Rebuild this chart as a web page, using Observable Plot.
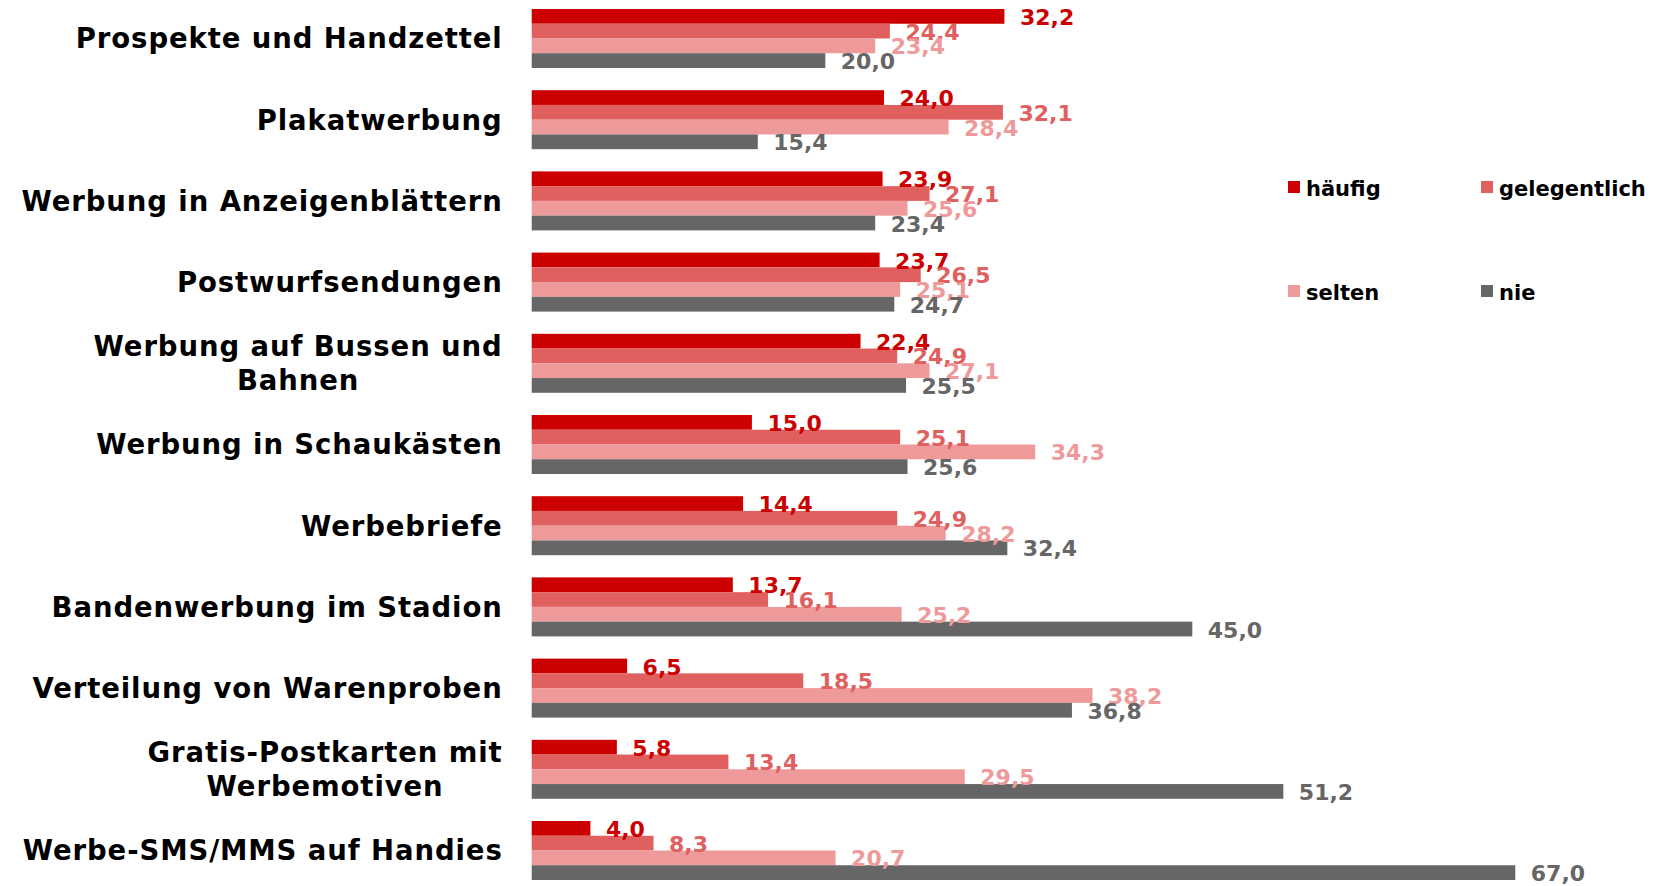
<!DOCTYPE html>
<html><head><meta charset="utf-8">
<script src="https://cdn.jsdelivr.net/npm/d3@7"></script>
<script src="https://cdn.jsdelivr.net/npm/@observablehq/plot@0.6"></script>
<style>
body{margin:0;background:#fff;}
#wrap{position:relative;width:1659px;height:886px;font-family:'DejaVu Sans',Verdana,sans-serif;}
.lg{position:absolute;display:flex;align-items:center;font-weight:bold;font-size:21px;color:#000;white-space:nowrap;height:26px;}
.lg span.sw{display:inline-block;width:12px;height:12px;margin-right:6px;}
.lg span.tx{position:relative;top:2px;}
</style></head><body><div id="wrap"></div>
<script>
const categories = [
  "Prospekte und Handzettel",
  "Plakatwerbung",
  "Werbung in Anzeigenblättern",
  "Postwurfsendungen",
  "Werbung auf Bussen und\nBahnen",
  "Werbung in Schaukästen",
  "Werbebriefe",
  "Bandenwerbung im Stadion",
  "Verteilung von Warenproben",
  "Gratis-Postkarten mit\nWerbemotiven",
  "Werbe-SMS/MMS auf Handies"
];
const series = ["häufig", "gelegentlich", "selten", "nie"];
const colors = ["#cc0000", "#e06060", "#ee9a9a", "#666666"];
const haeufig      = [32.2, 24.0, 23.9, 23.7, 22.4, 15.0, 14.4, 13.7, 6.5, 5.8, 4.0];
const gelegentlich = [24.4, 32.1, 27.1, 26.5, 24.9, 25.1, 24.9, 16.1, 18.5, 13.4, 8.3];
const selten       = [23.4, 28.4, 25.6, 25.1, 27.1, 34.3, 28.2, 25.2, 38.2, 29.5, 20.7];
const nie          = [20.0, 15.4, 23.4, 24.7, 25.5, 25.6, 32.4, 45.0, 36.8, 51.2, 67.0];
const valuesBySeries = [haeufig, gelegentlich, selten, nie];

const data = categories.flatMap((c, i) => series.map((s, j) => ({category: c, series: s, value: valuesBySeries[j][i]})));
const fmt = v => d3.format(".1f")(v).replace(".", ",");

const catFont = 27.5, catSpacing = 0.9, labelGap = 30;
const ctx = document.createElement("canvas").getContext("2d");
ctx.font = `bold ${catFont}px 'DejaVu Sans'`;
const catMarks = categories.map(c => {
  const w = d3.max(c.split("\n"), l => ctx.measureText(l).width + (l.length - 1) * catSpacing);
  return Plot.text([c], {
    fy: d => d, x: () => 0, text: d => d,
    textAnchor: "middle", dx: -(labelGap + w / 2), dy: -1.5,
    fontSize: catFont, fontWeight: "bold", fill: "#000", lineHeight: 1.236
  });
});

const chart = Plot.plot({
  width: 1659, height: 886,
  marginLeft: 531.7, marginRight: 11.6, marginTop: 9, marginBottom: 6,
  style: {fontFamily: "'DejaVu Sans', Verdana, sans-serif", background: "#fff"},
  x: {domain: [0, 76], axis: null},
  y: {domain: series, axis: null, padding: 0, round: false},
  fy: {domain: categories, axis: null, paddingInner: 0.2734, paddingOuter: 0, round: false},
  color: {domain: series, range: colors},
  marks: [
    Plot.barX(data, {x: "value", y: "series", fy: "category", fill: "series"}),
    Plot.text(data, {x: "value", y: "series", fy: "category", text: d => fmt(d.value),
      fill: "series", dx: 15, dy: 1, textAnchor: "start", fontWeight: "bold", fontSize: 22}),
    ...catMarks
  ]
});
const flatCats = new Set(categories.map(c => c.replace("\n", "")));
d3.select(chart).selectAll("text")
  .filter(function() { return flatCats.has(this.textContent); })
  .style("letter-spacing", catSpacing + "px")
  .attr("letter-spacing", catSpacing);
const wrap = document.getElementById("wrap");
wrap.appendChild(chart);

const legendPos = [[1288, 187], [1481, 187], [1288, 291], [1481, 291]];
series.forEach((s, j) => {
  const d = document.createElement("div");
  d.className = "lg";
  d.style.left = legendPos[j][0] + "px";
  d.style.top = (legendPos[j][1] - 13) + "px";
  d.innerHTML = `<span class="sw" style="background:${colors[j]}"></span><span class="tx">${s}</span>`;
  wrap.appendChild(d);
});
</script></body></html>
